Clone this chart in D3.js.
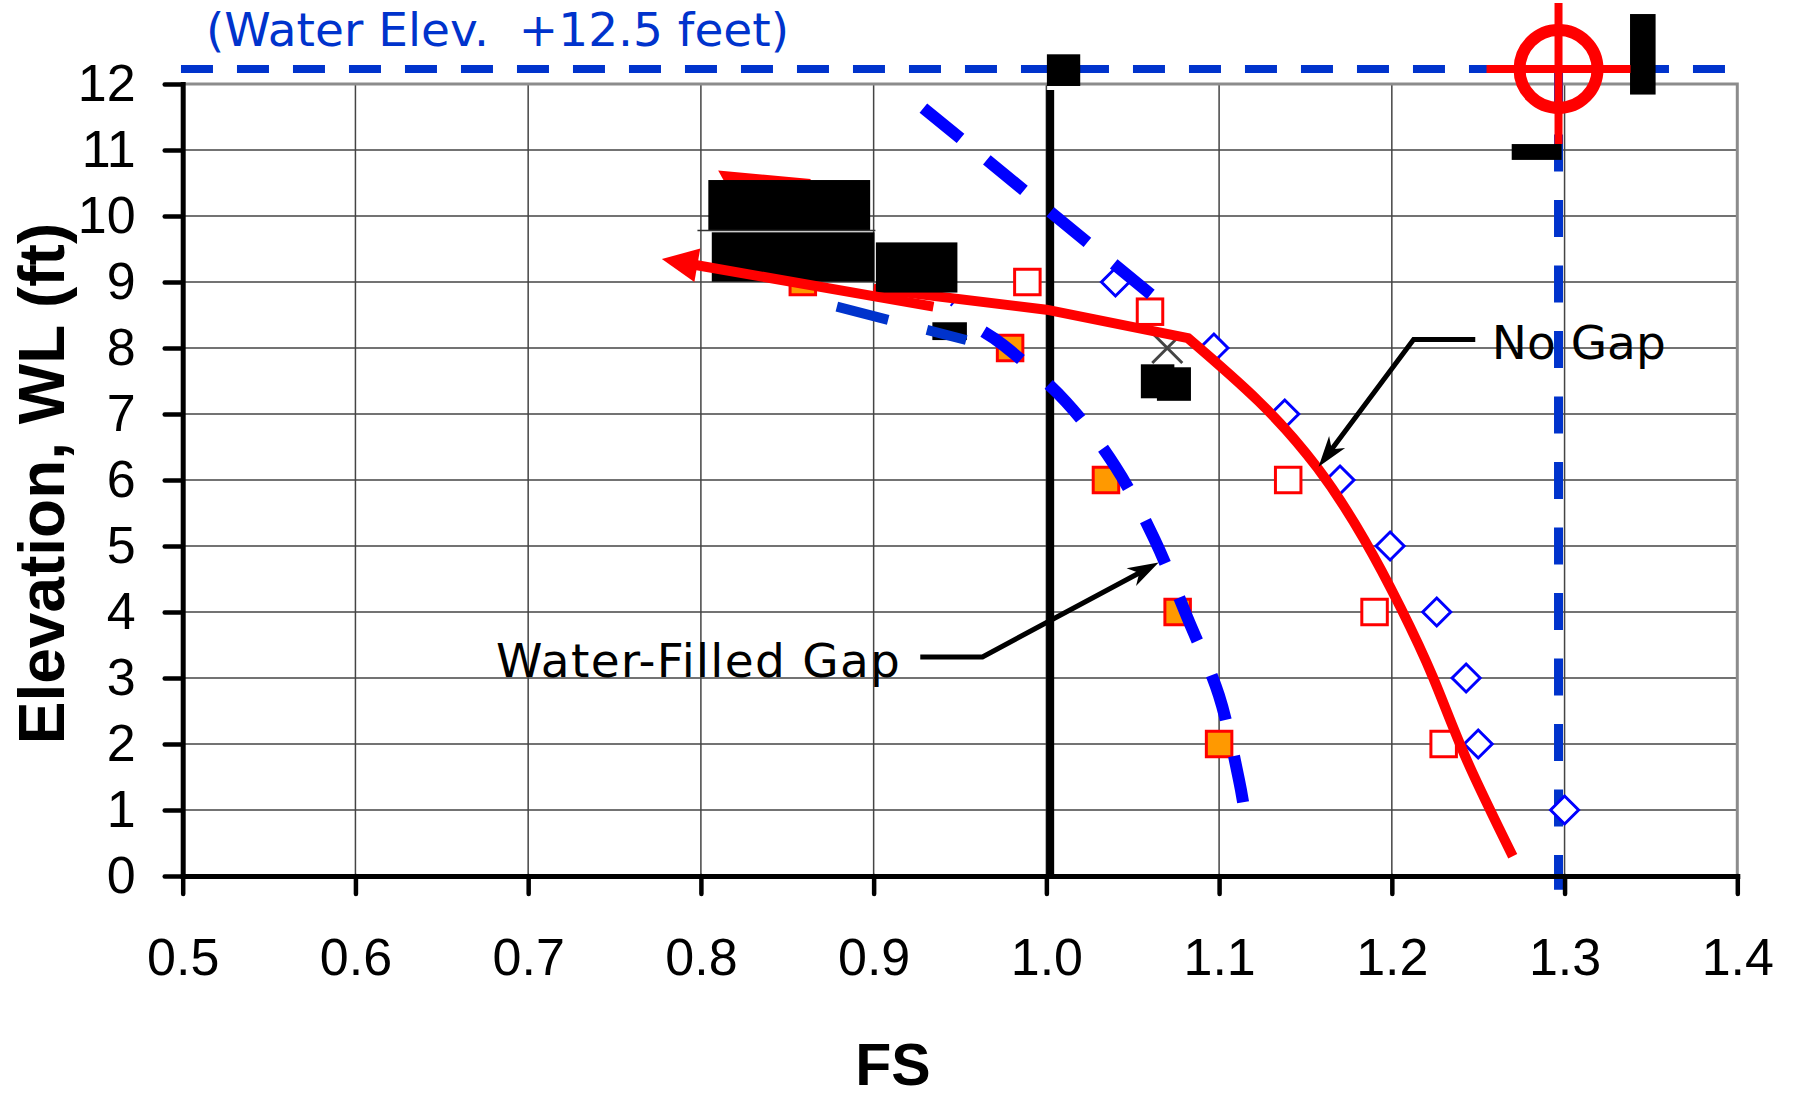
<!DOCTYPE html>
<html>
<head>
<meta charset="utf-8">
<script src="https://cdn.jsdelivr.net/npm/d3@7"></script>
<style>
  body { margin: 0; background: #fff; }
</style>
</head>
<body>
<div id="chart"></div>
<script>
// values (x = FS, y = elevation in ft)
const xTicks = [0.5, 0.6, 0.7, 0.8, 0.9, 1.0, 1.1, 1.2, 1.3, 1.4];
const yTicks = [0, 1, 2, 3, 4, 5, 6, 7, 8, 9, 10, 11, 12];

// point series
const gapSquares = [[0.859, 9.0], [0.979, 8.0], [1.0345, 6.0], [1.076, 4.0], [1.100, 2.0]];
const noGapSquares = [[0.989, 9.0], [1.060, 8.55], [1.140, 6.0], [1.190, 4.0], [1.230, 2.0]];
const diamonds = [[1.040, 9.0], [1.097, 8.0], [1.138, 7.0], [1.170, 6.0], [1.199, 5.0],
                  [1.226, 4.0], [1.243, 3.0], [1.250, 2.0], [1.300, 1.0]];
const crossPoints = [[1.070, 8.0]];

// curves
const noGapStraight = [[0.900, 8.90], [1.000, 8.58], [1.082, 8.15]];
const noGapBend = [[1.082, 8.15], [1.123, 7.19], [1.157, 6.18], [1.184, 5.10],
                   [1.205, 4.07], [1.224, 3.00], [1.243, 1.78], [1.270, 0.30]];
const gapArrow = [[0.9346, 8.626], [0.7774, 9.348]];
const upperArrow = [[0.810, 10.69], [0.8635, 10.56], [0.8635, 10.50], [0.814, 10.50]];
const gapCurve = [[0.9636, 8.247], [0.975, 8.045], [1.0113, 7.186], [1.040, 6.20], [1.0626, 5.10],
                  [1.0816, 3.915], [1.0999, 2.736], [1.1114, 1.47], [1.1139, 1.118]];
const upperBlue = [[0.9288, 11.636], [1.0631, 8.758]];
const darkBlue = [[0.8787, 8.626], [0.9536, 8.121]];
const thinBlue = [[0.9446, 8.64], [0.948, 8.75]];

// reference lines
const waterLevel = [[0.499, 12.227], [1.3935, 12.227]];
const targetDrop = [[1.2965, 12.227], [1.2965, -0.21]];
const fsOne = [[1.0022, 11.91], [1.0022, 0]];
const target = [1.2965, 12.227];

// black blocks [x0, x1, y0, y1]
const blackBoxes = [
    [0.8043, 0.8980, 9.788, 10.545],
    [0.9013, 0.9485, 8.84, 9.60],
    [0.934, 0.954, 8.12, 8.39],
    [1.0547, 1.0741, 7.238, 7.753],
    [1.0640, 1.0837, 7.20, 7.708],
    [1.0003, 1.0196, 11.97, 12.45],
    [1.2694, 1.2983, 10.85, 11.09],
    [1.3379, 1.3527, 11.84, 13.06]
];
const lowerBox = [0.8063, 0.9005, 9.005, 9.753];
const thinBar = [[0.798, 9.78], [0.901, 9.78]];

// annotations
const noGapLeader = [[1.2483, 8.13], [1.2126, 8.13], [1.1576, 6.20]];
const gapLeader = [[0.927, 3.32], [0.963, 3.32], [1.065, 4.75]];
const labelText = ['No Gap', 'Water-Filled Gap'];
const labelAt = [[1.2579, 7.828], [0.6814, 3.02]];

const width = 1795;
const height = 1097;
const plotLeft = 182.7, plotRight = 1737.3, plotTop = 84, plotBottom = 876;

const x = d3.scaleLinear().domain([0.5, 1.4]).range([plotLeft, plotRight]);
const y = d3.scaleLinear().domain([0, 12]).range([plotBottom, plotTop]);
const line = d3.line().x(d => x(d[0])).y(d => y(d[1]));
const smooth = d3.line().x(d => x(d[0])).y(d => y(d[1])).curve(d3.curveCatmullRom.alpha(0.5));
const natural = d3.line().x(d => x(d[0])).y(d => y(d[1])).curve(d3.curveNatural);

const svg = d3.select('#chart').append('svg')
    .attr('width', width)
    .attr('height', height);

// grid
svg.append('g').selectAll('line')
    .data(yTicks.filter(d => d > 0 && d < 12))
    .enter().append('line')
        .attr('x1', plotLeft).attr('x2', plotRight)
        .attr('y1', d => y(d)).attr('y2', d => y(d))
        .attr('stroke', '#444').attr('stroke-width', 1.5);
svg.append('g').selectAll('line')
    .data(xTicks.filter(d => d > 0.5 && d < 1.4))
    .enter().append('line')
        .attr('x1', d => x(d)).attr('x2', d => x(d))
        .attr('y1', plotTop).attr('y2', plotBottom)
        .attr('stroke', '#444').attr('stroke-width', 1.5);
svg.append('path')
    .attr('d', `M${plotLeft},${y(12)}H${x(1.4)}V${plotBottom}`)
    .attr('fill', 'none').attr('stroke', '#8c8c8c').attr('stroke-width', 3);

// water level lines
svg.append('path').attr('d', line(waterLevel))
    .attr('fill', 'none').attr('stroke', '#0033cc').attr('stroke-width', 8)
    .attr('stroke-dasharray', '32,24');
svg.append('path').attr('d', line(targetDrop))
    .attr('fill', 'none').attr('stroke', '#0033cc').attr('stroke-width', 9)
    .attr('stroke-dasharray', '37,28.5');

// FS = 1.0
svg.append('path').attr('d', line(fsOne))
    .attr('fill', 'none').attr('stroke', '#000').attr('stroke-width', 8);

// markers
svg.append('g').selectAll('rect')
    .data(gapSquares)
    .enter().append('rect')
        .attr('x', d => x(d[0]) - 12.75).attr('y', d => y(d[1]) - 12.75)
        .attr('width', 25.5).attr('height', 25.5)
        .attr('fill', '#ff9900').attr('stroke', '#ff0000').attr('stroke-width', 3);
svg.append('g').selectAll('rect')
    .data(noGapSquares)
    .enter().append('rect')
        .attr('x', d => x(d[0]) - 12.75).attr('y', d => y(d[1]) - 12.75)
        .attr('width', 25.5).attr('height', 25.5)
        .attr('fill', '#fff').attr('stroke', '#ff0000').attr('stroke-width', 3);
svg.append('g').selectAll('path')
    .data(diamonds)
    .enter().append('path')
        .attr('d', d => `M${x(d[0])},${y(d[1]) - 14}l14,14l-14,14l-14,-14z`)
        .attr('fill', '#fff').attr('stroke', '#0000ff').attr('stroke-width', 3);
svg.append('g').selectAll('path')
    .data(crossPoints)
    .enter().append('path')
        .attr('d', d => `M${x(d[0]) - 15},${y(d[1]) - 15}l30,30M${x(d[0]) + 15},${y(d[1]) - 15}l-30,30`)
        .attr('stroke', '#444').attr('stroke-width', 3);

// hidden upper arrow
svg.append('path').attr('d', line(upperArrow) + 'Z').attr('fill', '#ff0000');

// water-filled gap curves
svg.append('path').attr('d', line(upperBlue))
    .attr('fill', 'none').attr('stroke', '#0000ff').attr('stroke-width', 12)
    .attr('stroke-dasharray', '48,34');
svg.append('path').attr('d', smooth(gapCurve))
    .attr('fill', 'none').attr('stroke', '#0000ff').attr('stroke-width', 12)
    .attr('stroke-dasharray', '47,37');
svg.append('path').attr('d', line(thinBlue))
    .attr('fill', 'none').attr('stroke', '#0000ff').attr('stroke-width', 2);

// no gap curve: straight part, then the bend
const bendPath = natural(noGapBend).replace(/^M[^A-Za-z]+/, '');
svg.append('path').attr('d', line(noGapStraight) + bendPath)
    .attr('fill', 'none').attr('stroke', '#ff0000').attr('stroke-width', 10)
    .attr('stroke-linejoin', 'miter');

// black blocks
svg.append('g').selectAll('rect')
    .data(blackBoxes)
    .enter().append('rect')
        .attr('x', d => x(d[0])).attr('y', d => y(d[3]))
        .attr('width', d => x(d[1]) - x(d[0])).attr('height', d => y(d[2]) - y(d[3]))
        .attr('fill', '#000');

svg.append('path').attr('d', line(darkBlue))
    .attr('fill', 'none').attr('stroke', '#0033cc').attr('stroke-width', 10)
    .attr('stroke-dasharray', '53,40');

svg.append('rect')
    .attr('x', x(lowerBox[0])).attr('y', y(lowerBox[3]))
    .attr('width', x(lowerBox[1]) - x(lowerBox[0])).attr('height', y(lowerBox[2]) - y(lowerBox[3]))
    .attr('fill', '#000');
svg.append('path').attr('d', line(thinBar))
    .attr('stroke', '#333').attr('stroke-width', 1.5);

// arrowhead helper in pixel space
function arrowHead(from, to, len, half, notch) {
    const x0 = x(from[0]), y0 = y(from[1]), x1 = x(to[0]), y1 = y(to[1]);
    const l = Math.hypot(x1 - x0, y1 - y0);
    const ux = (x1 - x0) / l, uy = (y1 - y0) / l;
    const bx = x1 - ux * len, by = y1 - uy * len;
    const nx = x1 - ux * notch, ny = y1 - uy * notch;
    return `M${x1},${y1}L${bx - uy * half},${by + ux * half}L${nx},${ny}L${bx + uy * half},${by - ux * half}Z`;
}

// pixel point a little before the end of a segment
function shortEnd(a, b, cut) {
    const x0 = x(a[0]), y0 = y(a[1]), x1 = x(b[0]), y1 = y(b[1]);
    const l = Math.hypot(x1 - x0, y1 - y0);
    return [x1 - (x1 - x0) / l * cut, y1 - (y1 - y0) / l * cut];
}

// red arrow across the gap points
const arrowEnd = shortEnd(gapArrow[0], gapArrow[1], 30);
svg.append('path')
    .attr('d', `M${x(gapArrow[0][0])},${y(gapArrow[0][1])}L${arrowEnd[0]},${arrowEnd[1]}`)
    .attr('stroke', '#ff0000').attr('stroke-width', 10);
svg.append('path').attr('d', arrowHead(gapArrow[0], gapArrow[1], 36, 17, 36))
    .attr('fill', '#ff0000');

// target marker at the water level
const tx = x(target[0]), ty = y(target[1]);
svg.append('circle').attr('cx', tx).attr('cy', ty).attr('r', 39)
    .attr('fill', 'none').attr('stroke', '#ff0000').attr('stroke-width', 12);
svg.append('path').attr('d', `M${tx - 72},${ty}H${tx + 72}M${tx},${ty - 66}V${ty + 75}`)
    .attr('stroke', '#ff0000').attr('stroke-width', 8);

// leaders
[noGapLeader, gapLeader].forEach(pts => {
    const n = pts.length;
    const end = shortEnd(pts[n - 2], pts[n - 1], 20);
    svg.append('path').attr('d', line(pts.slice(0, n - 1)) + `L${end[0]},${end[1]}`)
        .attr('fill', 'none').attr('stroke', '#000').attr('stroke-width', 5);
    svg.append('path').attr('d', arrowHead(pts[n - 2], pts[n - 1], 31, 10, 22))
        .attr('fill', '#000');
});

svg.append('g').selectAll('text')
    .data(labelText)
    .enter().append('text')
        .attr('x', (d, i) => x(labelAt[i][0])).attr('y', (d, i) => y(labelAt[i][1]))
        .attr('font-family', '"DejaVu Sans", Verdana, sans-serif')
        .attr('font-size', 47)
        .attr('letter-spacing', (d, i) => i === 1 ? 1.3 : 0)
        .attr('fill', '#000')
        .text(d => d);

// title above the plot
svg.append('text')
    .attr('x', 206).attr('y', 45.5)
    .attr('font-family', '"DejaVu Sans", Verdana, sans-serif')
    .attr('font-size', 47)
    .attr('fill', '#0033cc')
    .style('white-space', 'pre')
    .text('(Water Elev.  +12.5 feet)');

// axes
const yAxis = svg.append('g')
    .attr('transform', `translate(${plotLeft},0)`)
    .call(d3.axisLeft(y).tickValues(yTicks).tickSize(18).tickPadding(29)
        .tickSizeOuter(0).tickFormat(d3.format('d')));
const xAxis = svg.append('g')
    .attr('transform', `translate(0,${plotBottom})`)
    .call(d3.axisBottom(x).tickValues(xTicks).tickSize(18).tickPadding(44)
        .tickSizeOuter(0).tickFormat(d3.format('.1f')));

[yAxis, xAxis].forEach(g => {
    g.attr('font-size', 52).attr('font-family', '"Liberation Sans", Arial, sans-serif');
    g.select('.domain').attr('stroke', '#000').attr('stroke-width', 5).attr('stroke-linecap', 'square');
    g.selectAll('.tick line').attr('stroke', '#000').attr('stroke-width', 4.5).attr('stroke-linecap', 'round');
    g.selectAll('.tick text').attr('fill', '#000');
});

// axis titles
svg.append('text')
    .attr('x', 893).attr('y', 1085)
    .attr('text-anchor', 'middle')
    .attr('font-family', '"Liberation Sans", Arial, sans-serif')
    .attr('font-weight', 'bold')
    .attr('font-size', 59)
    .text('FS');

svg.append('text')
    .attr('transform', 'translate(64,483.5) rotate(-90)')
    .attr('text-anchor', 'middle')
    .attr('font-family', '"Liberation Sans", Arial, sans-serif')
    .attr('font-weight', 'bold')
    .attr('font-size', 64)
    .text('Elevation, WL (ft)');
</script>
</body>
</html>
